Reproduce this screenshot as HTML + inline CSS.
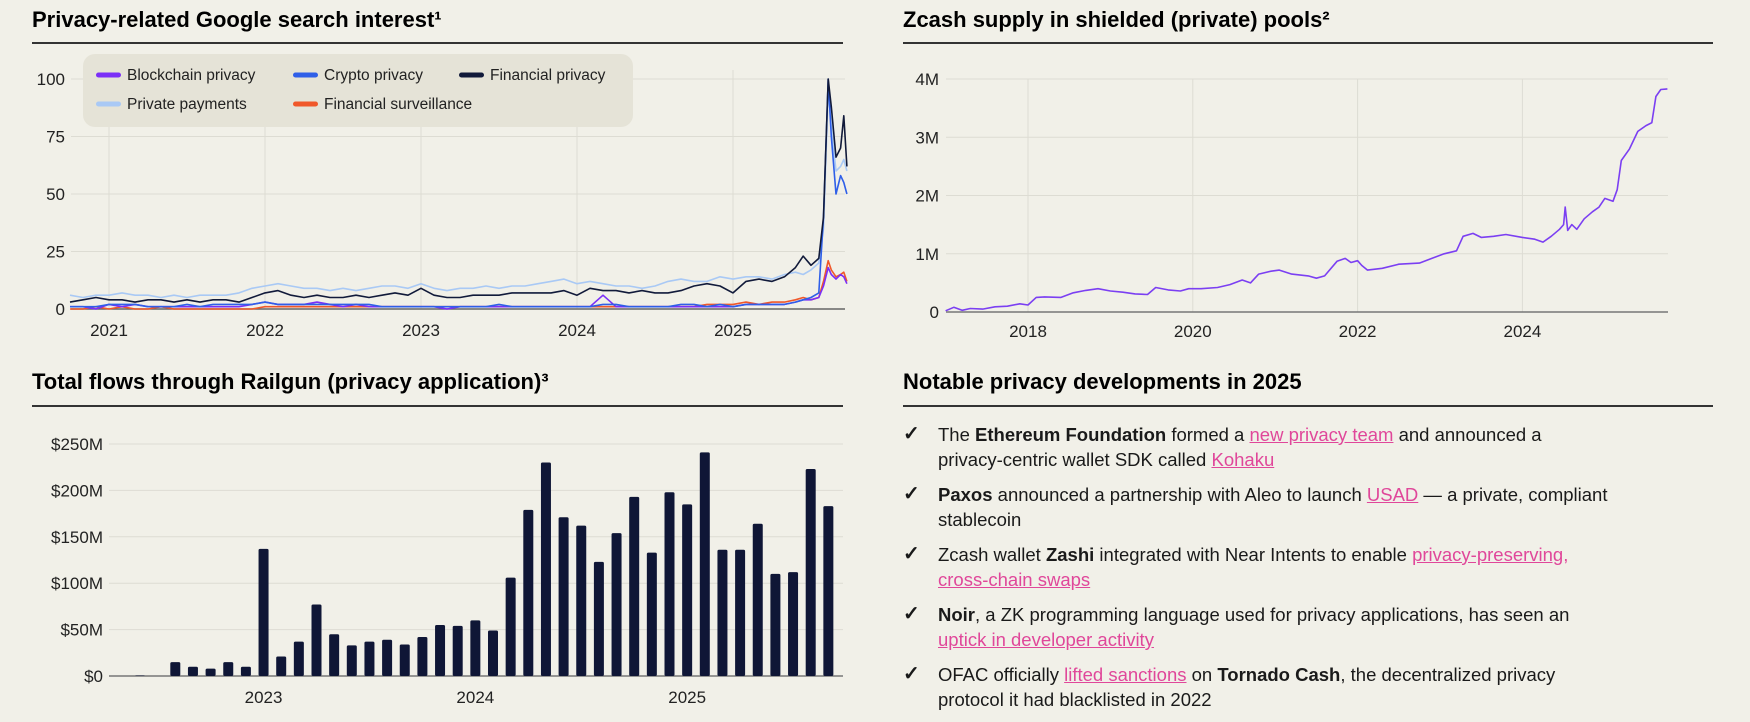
<!DOCTYPE html>
<html><head><meta charset="utf-8"><style>
body{margin:0;background:#f1f0e8;width:1750px;height:716px;overflow:hidden;font-family:"Liberation Sans",sans-serif;color:#111}
svg{position:absolute;left:0;top:0}
.notes{position:absolute;left:903px;top:422px;width:840px;font-size:18.5px;line-height:25px;color:#1a1a1a}
.item{position:relative;padding-left:35px;margin-bottom:10px}
.item .ck{position:absolute;left:0;top:0;font-size:20px;font-weight:bold}
a{color:#e0479a;text-decoration:underline}
b{font-weight:bold}
</style></head><body>
<svg width="1750" height="716" font-family="Liberation Sans, sans-serif">
<g id="c1"></g>
<g id="c2"></g>
<g id="c3"></g>
<text x="32" y="27" font-size="22" font-weight="bold">Privacy-related Google search interest¹</text>
<rect x="32" y="42" width="811" height="2" fill="#333"/>
<text x="903" y="27" font-size="22" font-weight="bold">Zcash supply in shielded (private) pools²</text>
<rect x="903" y="42" width="810" height="2" fill="#333"/>
<text x="32" y="389" font-size="22" font-weight="bold">Total flows through Railgun (privacy application)³</text>
<rect x="32" y="405" width="811" height="2" fill="#333"/>
<text x="903" y="389" font-size="22" font-weight="bold">Notable privacy developments in 2025</text>
<rect x="903" y="405" width="810" height="2" fill="#333"/>
</svg>
<div class="notes">
<div class="item"><span class="ck">✓</span>The <b>Ethereum Foundation</b> formed a <a>new privacy team</a> and announced a<br>privacy-centric wallet SDK called <a>Kohaku</a></div>
<div class="item"><span class="ck">✓</span><b>Paxos</b> announced a partnership with Aleo to launch <a>USAD</a> — a private, compliant<br>stablecoin</div>
<div class="item"><span class="ck">✓</span>Zcash wallet <b>Zashi</b> integrated with Near Intents to enable <a>privacy-preserving,<br>cross-chain swaps</a></div>
<div class="item"><span class="ck">✓</span><b>Noir</b>, a ZK programming language used for privacy applications, has seen an<br><a>uptick in developer activity</a></div>
<div class="item"><span class="ck">✓</span>OFAC officially <a>lifted sanctions</a> on <b>Tornado Cash</b>, the decentralized privacy<br>protocol it had blacklisted in 2022</div>
</div>
<script>
// ---------- Chart 1 data ----------
const searchLateDates=[2025.33,2025.40,2025.45,2025.50,2025.55,2025.58,2025.61,2025.63,2025.66,2025.69,2025.71,2025.73];
const financialPrivacy=[3,4,5,4,4,3,4,4,3,4,3,4, 4,3,5,7,8,6,5,6,5,5,6,5, 6,7,6,9,6,5,5,6,6,6,7,7, 7,7,8,6,9,8,8,7,8,7,7,8, 10,11,10,7,12,13,12, 14,18,23,19,22,40,100,88,66,70,84,62];
const privatePayments=[6,5,6,6,7,6,6,5,6,5,6,6, 6,7,9,10,11,10,9,9,8,9,8,9, 10,10,9,11,9,8,9,9,10,9,10,10, 11,12,13,11,12,11,10,10,9,10,12,13, 12,12,14,13,14,14,13, 15,16,15,17,20,35,95,80,60,62,65,60];
const cryptoPrivacy=[1,1,1,2,2,2,1,1,1,2,1,2, 2,2,2,3,2,2,2,2,2,2,2,2, 1,1,1,1,1,1,1,1,1,2,1,1, 1,1,1,1,1,2,2,1,1,1,1,2, 2,1,2,1,2,2,2, 2,3,4,5,7,40,100,75,50,58,55,50];
const blockchainPrivacy=[1,1,0,2,1,2,1,1,1,1,1,1, 1,1,2,3,2,2,2,3,2,1,2,1, 1,1,1,1,1,0,1,1,1,1,1,1, 1,1,1,1,1,6,1,1,1,1,1,1, 1,1,1,1,2,2,2, 2,3,4,4,5,10,18,15,13,15,14,11];
const financialSurveillance=[0,0,1,0,1,0,0,1,0,0,0,0, 0,0,0,1,1,1,1,1,1,1,1,1, 1,1,1,1,1,1,1,1,1,1,1,1, 1,1,1,1,1,1,1,1,1,1,1,1, 1,2,2,2,3,2,3, 3,4,5,4,5,12,21,17,14,15,16,12];
const searchYTicks=[0,25,50,75,100];
const searchXTicks=[2021,2022,2023,2024,2025];
// ---------- Chart 2 data ----------
const railgunValues=[0.5,0,15,10,8,15,10,137,21,37,77,45,33,37,39,34,42,55,54,60,49,106,179,230,171,162,123,154,193,133,198,185,241,136,136,164,110,112,223,183];
const railgunYTicks=[0,50,100,150,200,250];
const railgunYLabels=["$0","$50M","$100M","$150M","$200M","$250M"];
const railgunXTicks=[7,19,31];
const railgunXLabels=["2023","2024","2025"];
// ---------- Chart 3 data ----------
const zcashDates=[2017.0,2017.1,2017.2,2017.3,2017.45,2017.6,2017.75,2017.9,2018.0,2018.1,2018.2,2018.4,2018.55,2018.7,2018.85,2019.0,2019.15,2019.3,2019.45,2019.55,2019.7,2019.85,2019.95,2020.1,2020.3,2020.45,2020.6,2020.7,2020.8,2020.95,2021.05,2021.2,2021.4,2021.5,2021.6,2021.75,2021.85,2021.92,2022.0,2022.05,2022.12,2022.3,2022.5,2022.75,2022.9,2023.05,2023.2,2023.28,2023.4,2023.5,2023.65,2023.8,2024.0,2024.15,2024.25,2024.35,2024.45,2024.5,2024.52,2024.55,2024.6,2024.66,2024.75,2024.85,2024.93,2025.0,2025.1,2025.15,2025.2,2025.3,2025.4,2025.5,2025.57,2025.62,2025.68,2025.76];
const zcashValues=[0.02,0.08,0.03,0.06,0.05,0.09,0.1,0.14,0.12,0.25,0.26,0.25,0.33,0.37,0.4,0.36,0.34,0.31,0.3,0.42,0.38,0.36,0.4,0.4,0.42,0.47,0.55,0.5,0.65,0.7,0.72,0.65,0.62,0.58,0.62,0.87,0.92,0.85,0.88,0.8,0.72,0.75,0.82,0.84,0.92,1.0,1.05,1.3,1.35,1.28,1.3,1.33,1.28,1.25,1.2,1.3,1.42,1.5,1.8,1.4,1.5,1.42,1.6,1.72,1.8,1.95,1.9,2.1,2.6,2.8,3.1,3.2,3.25,3.7,3.82,3.83];
const zcashYTicks=[0,1,2,3,4];
const zcashYLabels=["0","1M","2M","3M","4M"];
const zcashXTicks=[2018,2020,2022,2024];

const NS="http://www.w3.org/2000/svg";
function mk(parent,tag,attrs){const e=document.createElementNS(NS,tag);for(const k in attrs)e.setAttribute(k,attrs[k]);parent.appendChild(e);return e;}

// ---- Chart 1 ----
(function(){
const g=document.getElementById('c1');
const x=t=>109+(t-2021)*156, y=v=>309-v*2.3;
const dates=[];for(let i=0;i<55;i++)dates.push(2020.75+i/12);
searchLateDates.forEach(d=>dates.push(d));
searchXTicks.forEach(t=>{const l=mk(g,'line',{x1:x(t),x2:x(t),y1:70,y2:309,stroke:'#dddcd3','stroke-width':1});

const tx=mk(g,'text',{x:x(t),y:336,'font-size':17,'text-anchor':'middle',fill:'#222'});tx.textContent=t;
});
searchYTicks.forEach(v=>{const l=mk(g,'line',{x1:71,x2:845,y1:y(v),y2:y(v),stroke:v?'#dddcd3':'#666','stroke-width':v?1:1.5});

const tx=mk(g,'text',{x:65,y:y(v)+6,'font-size':17,'text-anchor':'end',fill:'#222'});tx.textContent=v;
});
const series=[[privatePayments,'#a9c9f5','private-payments-line'],[financialSurveillance,'#f0582a','financial-surveillance-line'],[blockchainPrivacy,'#7b2ff7','blockchain-privacy-line'],[cryptoPrivacy,'#2f5fe8','crypto-privacy-line'],[financialPrivacy,'#111a3a','financial-privacy-line']];
series.forEach(s=>{const p=mk(g,'path',{d:s[0].map((v,i)=>(i?'L':'M')+x(dates[i]).toFixed(1)+','+y(v).toFixed(1)).join(''),fill:'none',stroke:s[1],'stroke-width':1.6,'stroke-linejoin':'round'});
});
const lg=mk(g,'g',{});
mk(lg,'rect',{x:83,y:54,width:550,height:73,rx:12,fill:'#e5e3d7'});
[['Blockchain privacy','#7b2ff7',96,75],['Crypto privacy','#2f5fe8',293,75],['Financial privacy','#111a3a',459,75],['Private payments','#a9c9f5',96,104],['Financial surveillance','#f0582a',293,104]].forEach(e=>{
const eg=mk(lg,'g',{});
mk(eg,'rect',{x:e[2],y:e[3]-2.5,width:25,height:5,rx:2.5,fill:e[1]});
const t=mk(eg,'text',{x:e[2]+31,y:e[3]+5,'font-size':15.5,fill:'#222'});t.textContent=e[0];});
})();

// ---- Chart 2 ----
(function(){
const g=document.getElementById('c2');
const x=i=>140+i*17.65, y=v=>676-v*0.928;
railgunYTicks.forEach((v,k)=>{const l=mk(g,'line',{x1:109,x2:843,y1:y(v),y2:y(v),stroke:v?'#dddcd3':'#777','stroke-width':v?1:1.5});

const tx=mk(g,'text',{x:103,y:y(v)+6,'font-size':17,'text-anchor':'end',fill:'#222'});tx.textContent=railgunYLabels[k];
});
railgunValues.forEach((v,i)=>{const r=mk(g,'rect',{x:x(i)-5,y:y(v),width:10,height:Math.max(0,676-y(v)),rx:1.5,fill:'#0f1636'});
});
railgunXTicks.forEach((i,k)=>{const tx=mk(g,'text',{x:x(i),y:703,'font-size':17,'text-anchor':'middle',fill:'#222'});tx.textContent=railgunXLabels[k];
});
})();

// ---- Chart 3 ----
(function(){
const g=document.getElementById('c3');
const x=t=>1028+(t-2018)*82.4, y=v=>312-v*58.25;
zcashXTicks.forEach(t=>{const l=mk(g,'line',{x1:x(t),x2:x(t),y1:79,y2:312,stroke:'#dddcd3','stroke-width':1});

const tx=mk(g,'text',{x:x(t),y:337,'font-size':17,'text-anchor':'middle',fill:'#222'});tx.textContent=t;
});
zcashYTicks.forEach((v,k)=>{const l=mk(g,'line',{x1:946,x2:1668,y1:y(v),y2:y(v),stroke:v?'#dddcd3':'#777','stroke-width':v?1:1.5});

const tx=mk(g,'text',{x:939,y:y(v)+6,'font-size':17,'text-anchor':'end',fill:'#222'});tx.textContent=zcashYLabels[k];
});
const p=mk(g,'path',{d:zcashValues.map((v,i)=>(i?'L':'M')+x(zcashDates[i]).toFixed(1)+','+y(v).toFixed(1)).join(''),fill:'none',stroke:'#7b3ff2','stroke-width':1.6,'stroke-linejoin':'round'});


})();
</script>
</body></html>
